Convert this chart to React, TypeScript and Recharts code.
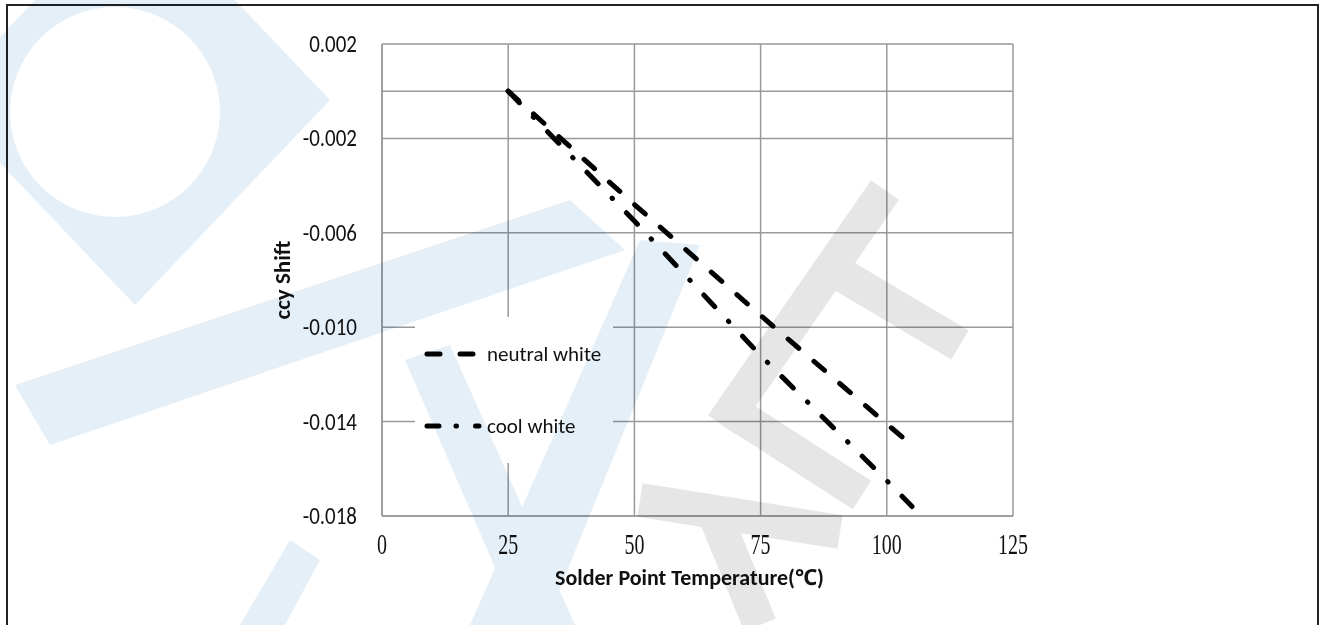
import React from "react"
import { LineChart, Line, XAxis, YAxis, CartesianGrid, ReferenceLine, Legend } from "recharts"

// solder point temperature (°C)
const temps = [25, 50, 75, 100, 105]
// ccy shift per series
const neutralWhite = [0, -0.0048, -0.0095, -0.0141, -0.015]
const coolWhite = [0, -0.0055, -0.0112, -0.0165, -0.0176]

const xTicks = [0, 25, 50, 75, 100, 125]
const yTicks = [0.002, -0.002, -0.006, -0.01, -0.014, -0.018]

const data = temps.map((t, i) => ({ t, neutral: neutralWhite[i], cool: coolWhite[i] }))

const FONT = "Carlito, 'Noto Sans', sans-serif"
const NEUTRAL_DASH = "14 20"
const COOL_DASH = "16 20 0.5 20"

const XTick = (props: any) => {
  const { x, y, payload } = props
  return (
    <g transform={`translate(${x},${y}) scale(1,1.45)`}>
      <text x={0} y={0} dy="0.66em" textAnchor="middle" fontFamily="'Liberation Serif', serif" fontSize={20} fill="#111">
        {payload.value}
      </text>
    </g>
  )
}

const YTick = (props: any) => {
  const { x, y, payload } = props
  return (
    <g transform={`translate(${x},${y}) scale(1,1.12)`}>
      <text x={0} y={0} dy="0.34em" textAnchor="end" fontFamily={FONT} fontSize={21} fill="#111">
        {Number(payload.value).toFixed(3)}
      </text>
    </g>
  )
}

const LegendBox = (props: any) => {
  const items = props.payload || []
  return (
    <svg width={198} height={146}>
      {items.map((it: any) => {
        const isNeutral = it.value === "neutral white"
        const y = isNeutral ? 37 : 109
        return (
          <g key={it.value}>
            <line x1={12} y1={y} x2={isNeutral ? 58 : 64} y2={y} stroke="#000" strokeWidth={5} strokeLinecap="round"
              strokeDasharray={isNeutral ? "13 20" : "12 17 0.5 19"} />
            <text x={72} y={y} dy="0.34em" fontFamily={FONT} fontSize={21} fill="#111">
              {it.value}
            </text>
          </g>
        )
      })}
    </svg>
  )
}

const Watermark = () => (
  <svg width={1320} height={625} style={{ position: "absolute", left: 0, top: 0, pointerEvents: "none", mixBlendMode: "multiply" }}>
    <g fill="#e4eff8" stroke="none">
      <path fillRule="evenodd" d="M330 100 L135 305 L-60 100 L135 -105 Z M10 112 A105 105 0 1 0 220 112 A105 105 0 1 0 10 112 Z" />
      <polygon points="15,385 570,200 625,250 50,445" />
      <polygon points="405,360 450,345 575,625 520,625" />
      <polygon points="640,240 700,245 545,625 470,625" />
      <polygon points="240,625 290,540 320,560 285,625" />
    </g>
    <g stroke="#e6e6e6" strokeWidth={34} fill="none" strokeLinecap="butt">
      <line x1={885} y1={190} x2={722} y2={425} />
      <line x1={820} y1={262} x2={960} y2={345} />
      <line x1={730} y1={410} x2={862} y2={495} />
      <line x1={640} y1={500} x2={840} y2={532} />
      <line x1={715} y1={515} x2={760} y2={625} />
    </g>
  </svg>
)

export default function App() {
  return (
    <div style={{ position: "absolute", left: 0, top: 0, width: 1320, height: 625, background: "#fff", overflow: "hidden" }}>
      <div style={{ position: "absolute", left: 6, top: 4, width: 1309, height: 640, border: "2px solid #222" }} />
      <LineChart width={1320} height={625} data={data} margin={{ top: 44, right: 307, left: 0, bottom: 0 }}>
        <CartesianGrid stroke="#999" strokeWidth={1.5} />
        <XAxis
          dataKey="t"
          type="number"
          domain={[0, 125]}
          ticks={xTicks}
          height={109}
          axisLine={{ stroke: "#999", strokeWidth: 1.5 }}
          tickLine={false}
          tickSize={0}
          tickMargin={19}
          tick={<XTick />}
          label={{
            value: "Solder Point Temperature(℃)",
            position: "insideBottom",
            offset: 40,
            dx: -8,
            style: { fontFamily: FONT, fontWeight: 700, fontSize: 22, fill: "#111" },
          }}
        />
        <YAxis
          type="number"
          domain={[-0.018, 0.002]}
          ticks={yTicks}
          width={382}
          axisLine={{ stroke: "#999", strokeWidth: 1.5 }}
          tickLine={false}
          tickSize={0}
          tickMargin={25}
          tick={<YTick />}
          label={{
            value: "ccy Shift",
            angle: -90,
            position: "insideLeft",
            offset: 282,
            dy: 0,
            style: { fontFamily: FONT, fontWeight: 700, fontSize: 23, fill: "#111", textAnchor: "middle" },
          }}
        />
        <ReferenceLine y={0} stroke="#999" strokeWidth={1.5} />
        <Legend
          layout="horizontal"
          verticalAlign="middle"
          align="center"
          wrapperStyle={{ left: 415, top: 317, width: 198, height: 146, background: "#fff" }}
          content={<LegendBox />}
        />
        <Line
          dataKey="neutral"
          name="neutral white"
          stroke="#000"
          strokeWidth={5}
          strokeLinecap="round"
          strokeDasharray={NEUTRAL_DASH}
          dot={false}
          activeDot={false}
          isAnimationActive={false}
        />
        <Line
          dataKey="cool"
          name="cool white"
          stroke="#000"
          strokeWidth={5}
          strokeLinecap="round"
          strokeDasharray={COOL_DASH}
          dot={false}
          activeDot={false}
          isAnimationActive={false}
        />
      </LineChart>
      <Watermark />
    </div>
  )
}
